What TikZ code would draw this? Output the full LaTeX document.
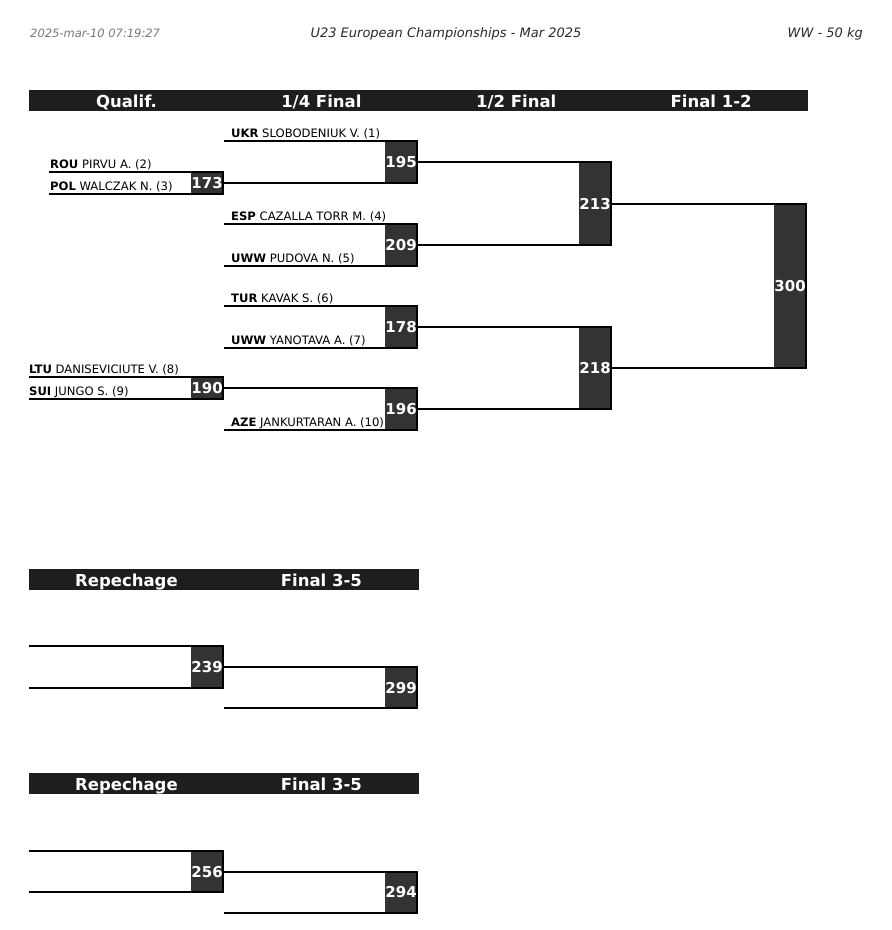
\documentclass[tikz,border=0pt]{standalone}
\usepackage{fontspec}
\setmainfont{DejaVu Sans}
\usetikzlibrary{positioning}
\definecolor{boxgray}{HTML}{333333}
\definecolor{barblack}{HTML}{1E1E1E}
\definecolor{stampgray}{HTML}{777777}
\definecolor{titlegray}{HTML}{2A2A2A}

\begin{document}
\begin{tikzpicture}[x=1pt, y=-1pt,
    bar/.style={fill=barblack, text=white, minimum width=194.5pt, minimum height=21pt,
                text height=13pt, text depth=0pt, inner sep=0pt,
                font=\fontsize{16.5}{19}\selectfont\bfseries},
    result/.style={fill=boxgray, text=white, minimum width=31pt, inner sep=0pt,
                   anchor=north east, font=\fontsize{15}{17}\selectfont\bfseries},
    entrant/.style={anchor=base west, inner sep=0pt, font=\fontsize{11.6}{13}\selectfont},
    caption/.style={anchor=base, inner sep=0pt, font=\fontsize{13}{15}\selectfont\itshape},
    wire/.style={line width=2pt}
]
\useasboundingbox (0,0) rectangle (892,930);

% --- page header ---
\node[caption, anchor=base west, text=stampgray, font=\fontsize{11.5}{14}\selectfont\itshape] (stamp) at (30,37) {2025-mar-10 07:19:27};
\node[caption, text=titlegray] (title) at (446,37) {U23 European Championships - Mar 2025};
\node[caption, anchor=base east, text=titlegray] (weight) at (863,37) {WW - 50 kg};

% --- round headers ---
\node[bar, anchor=north west] (hqual) at (29,90) {Qualif.};
\node[bar, right=0pt of hqual] (hquarter) {1/4 Final};
\node[bar, right=0pt of hquarter] (hsemi) {1/2 Final};
\node[bar, right=0pt of hsemi] (hfinal) {Final 1-2};

% --- result boxes: main bracket ---
\node[result, minimum height=22pt] (m173) at (223,172) {173};
\node[result, minimum height=22pt] (m190) at (223,377) {190};
\node[result, minimum height=42pt] (m195) at (417,141) {195};
\node[result, minimum height=42pt] (m209) at (417,224) {209};
\node[result, minimum height=42pt] (m178) at (417,306) {178};
\node[result, minimum height=42pt] (m196) at (417,388) {196};
\node[result, minimum height=83pt] (m213) at (611,162) {213};
\node[result, minimum height=82pt] (m218) at (611,327) {218};
\node[result, minimum height=164.5pt] (m300) at (806,203.5) {300};

% --- entrant line ends ---
\coordinate (rou) at (49,172);
\coordinate (pol) at (49,194);
\coordinate (ltu) at (29,377);
\coordinate (sui) at (29,399);
\coordinate (ukr) at (224,141);
\coordinate (esp) at (224,224);
\coordinate (uwwa) at (224,266);
\coordinate (tur) at (224,306);
\coordinate (uwwb) at (224,348);
\coordinate (aze) at (224,430);

% --- entrant names ---
\node[entrant] (rou-name) at (50,168) {\textbf{ROU} PIRVU A. (2)};
\node[entrant] (pol-name) at (50,190) {\textbf{POL} WALCZAK N. (3)};
\node[entrant] (ltu-name) at (29,373) {\textbf{LTU} DANISEVICIUTE V. (8)};
\node[entrant] (sui-name) at (29,395) {\textbf{SUI} JUNGO S. (9)};
\node[entrant] (ukr-name) at (231,137) {\textbf{UKR} SLOBODENIUK V. (1)};
\node[entrant] (esp-name) at (231,220) {\textbf{ESP} CAZALLA TORR M. (4)};
\node[entrant] (uwwa-name) at (231,262) {\textbf{UWW} PUDOVA N. (5)};
\node[entrant] (tur-name) at (231,302) {\textbf{TUR} KAVAK S. (6)};
\node[entrant] (uwwb-name) at (231,344) {\textbf{UWW} YANOTAVA A. (7)};
\node[entrant] (aze-name) at (231,426) {\textbf{AZE} JANKURTARAN A. (10)};

% --- qualification ---
\draw[wire] (rou) -- (rou -| m173.east) -- (pol -| m173.east) -- (pol);
\draw[wire] (ltu) -- (ltu -| m190.east) -- (sui -| m190.east) -- (sui);

% --- quarter finals ---
\draw[wire] (ukr) -- (ukr -| m195.east) -- (m173.east -| m195.east) -- (m173.east);
\draw[wire] (esp) -- (esp -| m209.east) -- (uwwa -| m209.east) -- (uwwa);
\draw[wire] (tur) -- (tur -| m178.east) -- (uwwb -| m178.east) -- (uwwb);
\draw[wire] (m190.east) -- (m190.east -| m196.east) -- (aze -| m196.east) -- (aze);

% --- semi finals ---
\draw[wire] (m195.east) -- (m195.east -| m213.east) -- (m209.east -| m213.east) -- (m209.east);
\draw[wire] (m178.east) -- (m178.east -| m218.east) -- (m196.east -| m218.east) -- (m196.east);

% --- final ---
\draw[wire] (m213.east) -- (m213.east -| m300.east) -- (m218.east -| m300.east) -- (m218.east);

% --- repechage (upper) ---
\node[bar, anchor=north west] (hrepa) at (29,569) {Repechage};
\node[bar, right=0pt of hrepa] (hbronzea) {Final 3-5};
\node[result, minimum height=42pt] (m239) at (223,646) {239};
\node[result, minimum height=41pt] (m299) at (417,667) {299};
\coordinate (repa-top) at (29,646);
\coordinate (repa-bot) at (29,688);
\coordinate (bronzea-bot) at (224,708);
\draw[wire] (repa-top) -- (repa-top -| m239.east) -- (repa-bot -| m239.east) -- (repa-bot);
\draw[wire] (m239.east) -- (m239.east -| m299.east) -- (bronzea-bot -| m299.east) -- (bronzea-bot);

% --- repechage (lower) ---
\node[bar, anchor=north west] (hrepb) at (29,773) {Repechage};
\node[bar, right=0pt of hrepb] (hbronzeb) {Final 3-5};
\node[result, minimum height=41pt] (m256) at (223,851) {256};
\node[result, minimum height=41pt] (m294) at (417,871.5) {294};
\coordinate (repb-top) at (29,851);
\coordinate (repb-bot) at (29,892);
\coordinate (bronzeb-bot) at (224,912.5);
\draw[wire] (repb-top) -- (repb-top -| m256.east) -- (repb-bot -| m256.east) -- (repb-bot);
\draw[wire] (m256.east) -- (m256.east -| m294.east) -- (bronzeb-bot -| m294.east) -- (bronzeb-bot);

\end{tikzpicture}
\end{document}
